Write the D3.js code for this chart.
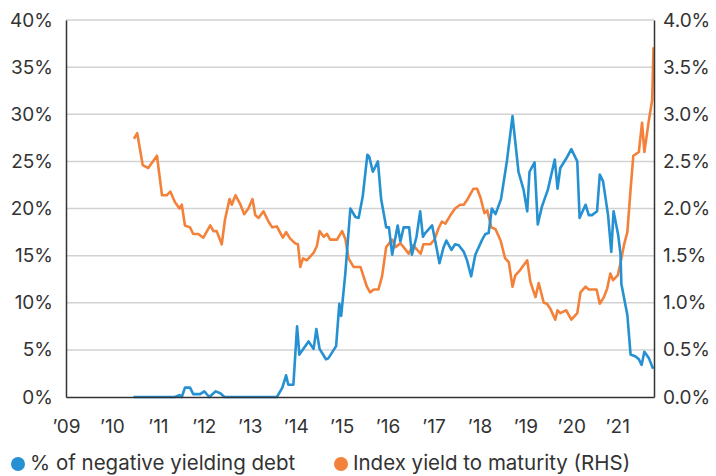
<!DOCTYPE html>
<html>
<head>
<meta charset="utf-8">
<script src="https://cdn.jsdelivr.net/npm/d3@7"></script>
<style>
  body { margin: 0; background: #fff; }
  svg text { font-family: Inter, "Noto Sans", sans-serif; fill: #333; }
</style>
</head>
<body>
<svg id="chart" width="716" height="476"></svg>
<script>
// % of negative yielding debt (left axis) - decimal year / value
var negDates = [2010.47, 2011.37, 2011.47, 2011.52, 2011.59, 2011.70, 2011.77, 2011.92, 2012.01, 2012.12,
  2012.26, 2012.36, 2012.45, 2013.59, 2013.71, 2013.79, 2013.84, 2013.95, 2014.03, 2014.08,
  2014.28, 2014.39, 2014.45, 2014.52, 2014.66, 2014.71, 2014.88, 2014.95, 2014.99, 2015.08,
  2015.19, 2015.30, 2015.37, 2015.46, 2015.56, 2015.60, 2015.68, 2015.79, 2015.86, 2015.97,
  2016.03, 2016.10, 2016.22, 2016.28, 2016.35, 2016.47, 2016.53, 2016.63, 2016.71, 2016.77,
  2016.82, 2016.97, 2017.04, 2017.13, 2017.22, 2017.28, 2017.39, 2017.47, 2017.55, 2017.66,
  2017.73, 2017.82, 2017.91, 2018.06, 2018.13, 2018.20, 2018.27, 2018.35, 2018.47, 2018.60,
  2018.72, 2018.85, 2018.96, 2019.04, 2019.09, 2019.20, 2019.27, 2019.36, 2019.49, 2019.64,
  2019.70, 2019.76, 2019.89, 2020.00, 2020.13, 2020.18, 2020.31, 2020.38, 2020.45, 2020.56,
  2020.62, 2020.69, 2020.80, 2020.87, 2020.92, 2021.02, 2021.07, 2021.09, 2021.22, 2021.29,
  2021.40, 2021.47, 2021.53, 2021.59, 2021.69, 2021.78];
var negValues = [0, 0, 0.2, 0, 1.0, 1.0, 0.3, 0.3, 0.6, 0,
  0.6, 0.4, 0, 0, 1.0, 2.3, 1.3, 1.3, 7.5, 4.5,
  5.9, 5.1, 7.2, 5.1, 4.0, 4.1, 5.4, 9.9, 8.6, 13.1,
  20.0, 19.1, 19.0, 21.3, 25.7, 25.5, 23.9, 25.0, 21.0, 18.0,
  18.0, 15.1, 18.2, 16.5, 18.0, 18.0, 15.1, 17.0, 19.7, 17.0,
  17.4, 18.2, 16.5, 14.2, 15.9, 16.6, 15.6, 16.2, 16.1, 15.4,
  14.5, 12.8, 15.1, 16.7, 17.3, 17.4, 20.0, 19.4, 21.0, 25.1,
  29.8, 23.9, 22.0, 19.7, 23.9, 24.9, 18.3, 20.2, 22.0, 25.2,
  22.1, 24.3, 25.3, 26.3, 25.0, 19.0, 20.4, 19.3, 19.3, 19.7,
  23.6, 22.9, 19.3, 15.4, 19.7, 17.2, 15.2, 12.0, 8.7, 4.5,
  4.3, 4.0, 3.4, 4.8, 4.1, 3.0];

// Index yield to maturity (right axis)
var ytmDates = [2010.48, 2010.55, 2010.67, 2010.79, 2010.98, 2011.09, 2011.19, 2011.27, 2011.37, 2011.47,
  2011.52, 2011.59, 2011.70, 2011.77, 2011.88, 2011.99, 2012.14, 2012.21, 2012.28, 2012.39,
  2012.46, 2012.56, 2012.61, 2012.69, 2012.79, 2012.88, 2012.97, 2013.06, 2013.12, 2013.19,
  2013.30, 2013.41, 2013.49, 2013.59, 2013.72, 2013.79, 2013.88, 2013.99, 2014.05, 2014.10,
  2014.16, 2014.24, 2014.39, 2014.46, 2014.52, 2014.61, 2014.68, 2014.75, 2014.90, 2015.01,
  2015.08, 2015.15, 2015.26, 2015.41, 2015.55, 2015.62, 2015.70, 2015.80, 2015.88, 2015.97,
  2016.10, 2016.17, 2016.28, 2016.35, 2016.46, 2016.55, 2016.63, 2016.72, 2016.78, 2016.93,
  2017.02, 2017.11, 2017.18, 2017.26, 2017.37, 2017.47, 2017.58, 2017.66, 2017.73, 2017.80,
  2017.87, 2017.95, 2018.02, 2018.11, 2018.17, 2018.26, 2018.35, 2018.46, 2018.56, 2018.64,
  2018.72, 2018.78, 2018.89, 2019.04, 2019.11, 2019.22, 2019.29, 2019.40, 2019.47, 2019.54,
  2019.65, 2019.70, 2019.76, 2019.89, 2020.00, 2020.13, 2020.20, 2020.31, 2020.38, 2020.55,
  2020.62, 2020.71, 2020.78, 2020.85, 2020.91, 2021.01, 2021.07, 2021.15, 2021.22, 2021.29,
  2021.35, 2021.47, 2021.54, 2021.59, 2021.69, 2021.76, 2021.79];
var ytmValues = [2.74, 2.80, 2.46, 2.43, 2.56, 2.14, 2.14, 2.18, 2.07, 2.00,
  2.04, 1.82, 1.80, 1.73, 1.73, 1.69, 1.82, 1.76, 1.76, 1.62,
  1.88, 2.10, 2.04, 2.14, 2.05, 1.94, 2.00, 2.10, 1.93, 1.90,
  1.97, 1.86, 1.80, 1.81, 1.69, 1.75, 1.68, 1.63, 1.62, 1.38,
  1.47, 1.45, 1.53, 1.60, 1.76, 1.70, 1.73, 1.67, 1.67, 1.76,
  1.68, 1.47, 1.38, 1.38, 1.17, 1.11, 1.14, 1.14, 1.28, 1.59,
  1.67, 1.59, 1.63, 1.59, 1.52, 1.61, 1.57, 1.52, 1.62, 1.62,
  1.67, 1.79, 1.86, 1.84, 1.93, 2.00, 2.04, 2.04, 2.09, 2.15,
  2.21, 2.21, 2.12, 1.95, 1.98, 1.80, 1.78, 1.66, 1.47, 1.43,
  1.17, 1.29, 1.35, 1.45, 1.22, 1.06, 1.21, 1.00, 0.99, 0.94,
  0.82, 0.92, 0.89, 0.92, 0.82, 0.89, 1.11, 1.17, 1.14, 1.14,
  0.99, 1.06, 1.15, 1.31, 1.24, 1.29, 1.42, 1.62, 1.75, 2.20,
  2.56, 2.60, 2.91, 2.60, 2.94, 3.15, 3.71];

var yearTicks = [2009, 2010, 2011, 2012, 2013, 2014, 2015, 2016, 2017, 2018, 2019, 2020, 2021];
var leftTicks = [0, 5, 10, 15, 20, 25, 30, 35, 40];
var rightTicks = [0, 0.5, 1, 1.5, 2, 2.5, 3, 3.5, 4];
var legendLabels = ["% of negative yielding debt", "Index yield to maturity (RHS)"];
var colors = ["#2590d2", "#f3813a"];

var margin = { top: 20, right: 62, bottom: 79, left: 66 };
var width = 716 - margin.left - margin.right;
var height = 476 - margin.top - margin.bottom;

var x = d3.scaleLinear().domain([2009, 2021.8]).range([0, width]);
var yL = d3.scaleLinear().domain([0, 40]).range([height, 0]);
var yR = d3.scaleLinear().domain([0, 4]).range([height, 0]);

var svg = d3.select("#chart")
  .append("g")
  .attr("transform", "translate(" + margin.left + "," + margin.top + ")");

// gridlines
svg.append("g")
  .selectAll("line")
  .data(leftTicks.slice(1))
  .enter().append("line")
  .attr("x1", 0).attr("x2", width)
  .attr("y1", function (d) { return yL(d); })
  .attr("y2", function (d) { return yL(d); })
  .attr("stroke", "#d2d2d2")
  .attr("stroke-width", 1.5);

// lines
var negData = negDates.map(function (d, i) { return [d, negValues[i]]; });
var ytmData = ytmDates.map(function (d, i) { return [d, ytmValues[i]]; });

var negLine = d3.line().x(function (d) { return x(d[0]); }).y(function (d) { return yL(d[1]); });
var ytmLine = d3.line().x(function (d) { return x(d[0]); }).y(function (d) { return yR(d[1]); });

svg.append("path").datum(ytmData)
  .attr("fill", "none").attr("stroke", colors[1]).attr("stroke-width", 2.6)
  .attr("stroke-linejoin", "round")
  .attr("d", ytmLine);

svg.append("path").datum(negData)
  .attr("fill", "none").attr("stroke", colors[0]).attr("stroke-width", 2.6)
  .attr("stroke-linejoin", "round")
  .attr("d", negLine);

// axes
var leftAxis = svg.append("g")
  .call(d3.axisLeft(yL).tickValues(leftTicks).tickSize(0).tickPadding(13)
    .tickFormat(function (d) { return d + "%"; }));
var rightAxis = svg.append("g")
  .attr("transform", "translate(" + width + ",0)")
  .call(d3.axisRight(yR).tickValues(rightTicks).tickSize(0).tickPadding(9)
    .tickFormat(function (d) { return d3.format(".1f")(d) + "%"; }));
var bottomAxis = svg.append("g")
  .attr("transform", "translate(0," + height + ")")
  .call(d3.axisBottom(x).tickValues(yearTicks).tickSize(0).tickPadding(23)
    .tickFormat(function (d) { return "\u2019" + String(d).slice(2); }));

[leftAxis, rightAxis, bottomAxis].forEach(function (g) {
  g.selectAll("text").attr("font-size", 19).attr("font-family", null).attr("fill", "#333");
  g.select(".domain").attr("stroke", "#333").attr("stroke-width", 1.5);
});

// legend
var legend = d3.select("#chart").append("g").attr("transform", "translate(0,463)");
var legendX = [18, 341];
legendLabels.forEach(function (lab, i) {
  legend.append("circle").attr("cx", legendX[i]).attr("cy", 1).attr("r", 7).attr("fill", colors[i]);
  legend.append("text").attr("x", legendX[i] + 12).attr("y", 0).attr("dy", "0.35em")
    .attr("font-size", 20.5).text(lab);
});
</script>
</body>
</html>
